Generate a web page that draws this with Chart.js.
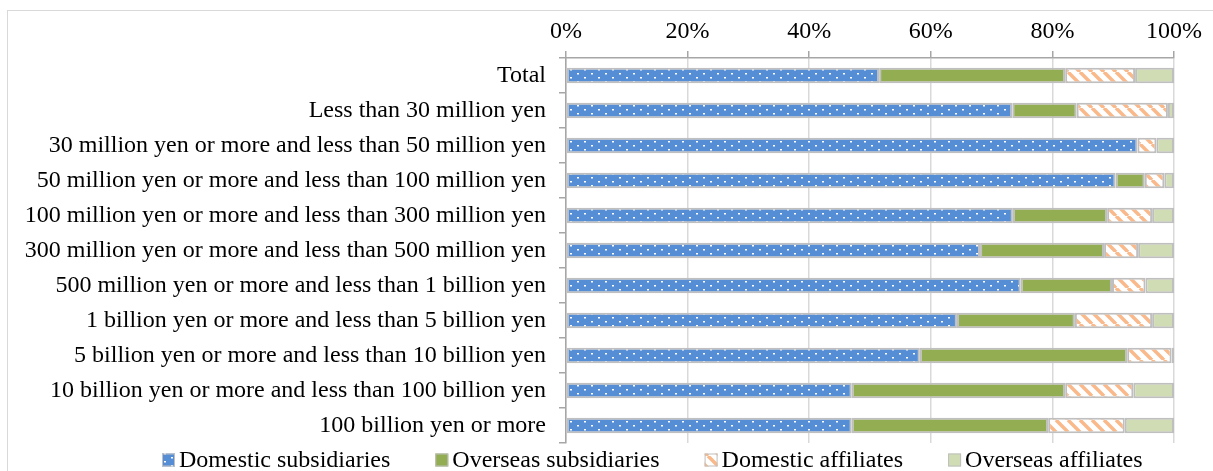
<!DOCTYPE html>
<html>
<head>
<meta charset="utf-8">
<script src="https://cdn.jsdelivr.net/npm/chart.js@4/dist/chart.umd.min.js"></script>
<style>
  html, body { margin: 0; padding: 0; background: #fff; }
  .wrap { position: relative; width: 1213px; height: 471px; overflow: hidden; }
  .frame { position: absolute; left: 7px; top: 10px; width: 1300px; height: 600px; border: 1px solid #d9d9d9; }
  #chart { position: absolute; left: 0; top: 0; }
</style>
</head>
<body>
<div class="wrap">
  <div class="frame"></div>
  <canvas id="chart" width="1213" height="471"></canvas>
</div>
<script>
const categories = [
  'Total',
  'Less than 30 million yen',
  '30 million yen or more and less than 50 million yen',
  '50 million yen or more and less than 100 million yen',
  '100 million yen or more and less than 300 million yen',
  '300 million yen or more and less than 500 million yen',
  '500 million yen or more and less than 1 billion yen',
  '1 billion yen or more and less than 5 billion yen',
  '5 billion yen or more and less than 10 billion yen',
  '10 billion yen or more and less than 100 billion yen',
  '100 billion yen or more'
];
const domesticSubsidiaries = [51.5, 73.4, 94.0, 90.4, 73.5, 68.1, 74.8, 64.3, 58.2, 47.0, 47.0];
const overseasSubsidiaries = [30.6, 10.6, 0, 4.8, 15.5, 20.4, 15.0, 19.4, 34.1, 35.1, 32.3];
const domesticAffiliates = [11.5, 15.0, 3.1, 3.2, 7.4, 5.6, 5.5, 12.7, 7.3, 11.2, 12.6];
const overseasAffiliates = [6.4, 1.0, 2.9, 1.6, 3.6, 5.9, 4.7, 3.6, 0.4, 6.7, 8.1];
const percentTicks = [0, 20, 40, 60, 80, 100];

const FONT = 'Liberation Serif';

// blue fill with small white dots
function dotPattern() {
  const c = document.createElement('canvas');
  c.width = 14; c.height = 8;
  const g = c.getContext('2d');
  g.fillStyle = '#558ed5';
  g.fillRect(0, 0, 14, 8);
  g.fillStyle = '#ffffff';
  g.fillRect(3, 1, 2, 1.5);
  g.fillRect(10, 5, 2, 1.5);
  return g.createPattern(c, 'repeat');
}

// white fill with orange "\" stripes
function hatchPattern() {
  const s = 12;
  const c = document.createElement('canvas');
  c.width = s; c.height = s;
  const g = c.getContext('2d');
  g.fillStyle = '#ffffff';
  g.fillRect(0, 0, s, s);
  g.strokeStyle = '#fab98a';
  g.lineWidth = 3.5;
  for (const x0 of [-s, 0, s]) {
    g.beginPath();
    g.moveTo(x0, 0);
    g.lineTo(x0 + s, s);
    g.stroke();
  }
  return g.createPattern(c, 'repeat');
}

const blueFill = dotPattern();
const hatchFill = hatchPattern();

const series = [
  { label: 'Domestic subsidiaries', data: domesticSubsidiaries, fill: blueFill },
  { label: 'Overseas subsidiaries', data: overseasSubsidiaries, fill: '#92ad52' },
  { label: 'Domestic affiliates', data: domesticAffiliates, fill: hatchFill },
  { label: 'Overseas affiliates', data: overseasAffiliates, fill: '#d0ddb4' }
];

// legend drawn by hand so the box/text spacing stays tight
const bottomLegend = {
  id: 'bottomLegend',
  afterDraw(chart) {
    const ctx = chart.ctx;
    ctx.save();
    ctx.font = '24px "' + FONT + '"';
    ctx.textBaseline = 'middle';
    const box = 13, gap = 4, spacing = 45, y = 460;
    let x = 162;
    chart.data.datasets.forEach(ds => {
      ctx.fillStyle = ds.backgroundColor;
      ctx.fillRect(x, y - box / 2, box, box);
      ctx.strokeStyle = '#bfbfbf';
      ctx.lineWidth = 1;
      ctx.strokeRect(x + 0.5, y - box / 2 + 0.5, box - 1, box - 1);
      ctx.fillStyle = '#000';
      ctx.fillText(ds.label, x + box + gap, y + 1);
      x += box + gap + ctx.measureText(ds.label).width + spacing;
    });
    ctx.restore();
  }
};

new Chart(document.getElementById('chart'), {
  type: 'bar',
  data: {
    labels: categories,
    datasets: series.map(s => ({
      label: s.label,
      data: s.data,
      backgroundColor: s.fill,
      borderColor: '#bfbfbf',
      borderWidth: 2,
      borderSkipped: false,
      barPercentage: 0.55,
      categoryPercentage: 0.8
    }))
  },
  options: {
    indexAxis: 'y',
    responsive: false,
    animation: false,
    layout: { padding: { left: 0, right: 39, top: 0, bottom: 28 } },
    plugins: {
      legend: { display: false },
      tooltip: { enabled: false }
    },
    scales: {
      x: {
        position: 'top',
        stacked: true,
        min: 0,
        max: 100,
        afterBuildTicks: scale => { scale.ticks = percentTicks.map(v => ({ value: v })); },
        afterFit: scale => { scale.height = 58; },
        ticks: {
          callback: v => v + '%',
          color: '#000',
          padding: 5,
          font: { family: FONT, size: 24 }
        },
        grid: { color: '#d9d9d9', lineWidth: 1.5, tickColor: '#a6a6a6', tickLength: 7 },
        border: { color: '#a6a6a6', width: 1.5 }
      },
      y: {
        stacked: true,
        afterFit: scale => { scale.width = 566; },
        ticks: {
          color: '#000',
          padding: 13,
          autoSkip: false,
          font: { family: FONT, size: 24 }
        },
        grid: { drawOnChartArea: false, tickColor: '#a6a6a6', tickLength: 7, lineWidth: 1.5 },
        border: { color: '#a6a6a6', width: 1.5 }
      }
    }
  },
  plugins: [bottomLegend]
});
</script>
</body>
</html>
